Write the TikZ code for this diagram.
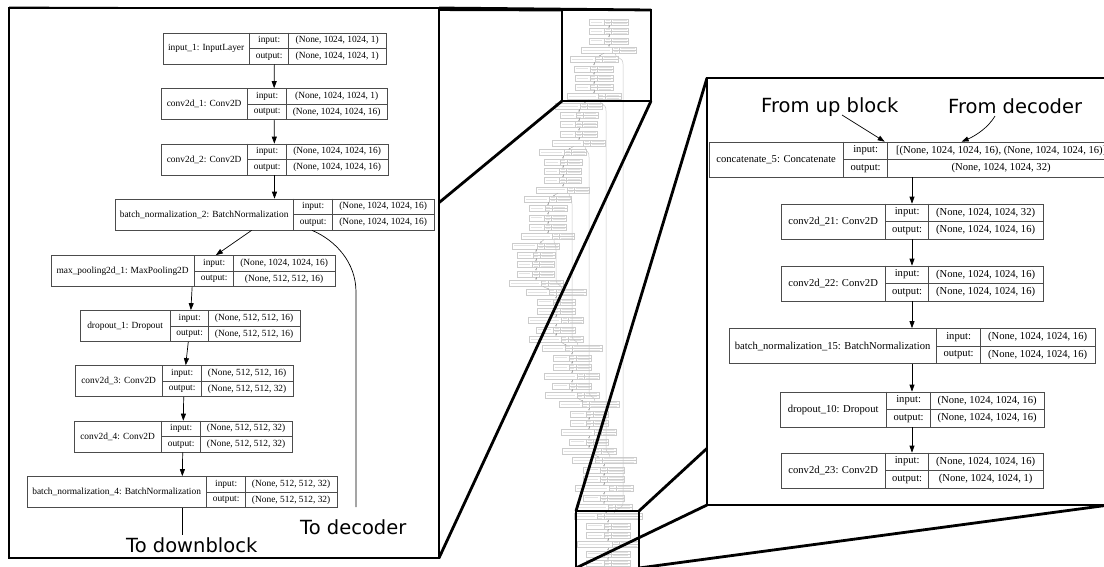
\documentclass[tikz,border=0pt]{standalone}
\usepackage{fontspec}
\setmainfont{Liberation Serif}
\newfontfamily\annfont{DejaVu Sans}
\usetikzlibrary{calc, arrows.meta, positioning}

\pgfdeclarelayer{thumb}
\pgfdeclarelayer{links}
\pgfsetlayers{thumb,links,main}

\tikzset{
	kbox/.style={draw=black!70, line width=.7pt, fill=white, inner sep=0pt},
	kcell/.style={draw=black!70, line width=.7pt},
	lp/.style={font=\fontsize{9.4}{11}\selectfont, minimum height=31, inner sep=0pt},
	rp/.style={font=\fontsize{10.6}{12}\selectfont, minimum height=35, inner sep=0pt},
	flow/.style={-{Triangle[length=7pt,width=5pt]}, line width=.7pt},
	wire/.style={line width=.7pt},
	ann/.style={font=\annfont\fontsize{19.5}{22}\selectfont, inner sep=0pt},
	panel/.style={draw, line width=2.8pt, fill=white, outer sep=0pt, inner sep=0pt},
	zoombox/.style={draw, line width=2.8pt, outer sep=0pt, inner sep=0pt},
	callout/.style={line width=2.8pt},
	tbox/.style={draw=gray!40, line width=.3pt, fill=white, minimum height=6, inner sep=0pt},
	tcell/.style={draw=gray!40, line width=.3pt},
	ttext/.style={draw=gray!22, line width=.9pt},
	tarrow/.style={-{Triangle[length=1.6pt,width=1.3pt]}, draw=gray!70, line width=.3pt},
	tskip/.style={draw=gray!45, line width=.5pt},
}

% #1 size, #2 name, #3 centre, #4 #5 #6 column widths, #7 layer, #8 input, #9 output
\newcommand{\kerasnode}[9]{%
	\node[kbox, #1, minimum width=#4+#5+#6] (#2) at #3 {};
	\draw[kcell] ($(#2.north west)+(#4,0)$) -- ($(#2.south west)+(#4,0)$);
	\draw[kcell] ($(#2.north west)+(#4+#5,0)$) -- ($(#2.south west)+(#4+#5,0)$);
	\draw[kcell] ($(#2.west)+(#4,0)$) -- (#2.east);
	\node[#1] at ($(#2.west)+(#4/2,0)$) {#7};
	\node[#1] at ($(#2.north west)!.5!(#2.west)+(#4+#5/2,0)$) {input:};
	\node[#1] at ($(#2.south west)!.5!(#2.west)+(#4+#5/2,0)$) {output:};
	\node[#1] at ($(#2.north west)!.5!(#2.west)+(#4+#5+#6/2,0)$) {#8};
	\node[#1] at ($(#2.south west)!.5!(#2.west)+(#4+#5+#6/2,0)$) {#9};
}

\begin{document}
\begin{tikzpicture}[x=1pt, y=-1pt]
	\useasboundingbox (0,0) rectangle (1104,566);
	\clip (0,0) rectangle (1104,566);

	% whole model, shrunk
	\begin{pgfonlayer}{thumb}
		\foreach \n/\c/\s [count=\i from 0] in {
			15/609/17, 15/609/17, 15/609/17, 31/609/17,
			25/594/16, 16/594/16, 15/594/16, 15/594/16, 31/594/16,
			25/579/15, 16/579/15, 15/579/15, 15/579/15, 31/579/15,
			25/563/15, 16/563/15, 15/563/15, 15/563/15, 31/563/15,
			25/548/15, 16/548/15, 15/548/15, 15/548/15, 31/548/15,
			25/536/15, 16/536/15, 15/536/15, 15/536/15, 32/536/15,
			23/556/30, 16/556/15, 16/556/15, 33/556/15, 17/556/15, 32/556/15,
			23/572/30, 16/572/15, 16/572/15, 33/572/15, 17/572/15, 32/572/15,
			23/589/30, 16/589/15, 16/589/15, 33/589/15, 17/589/15, 32/589/15,
			23/604/34, 17/604/17, 17/604/17, 34/604/17, 17/604/17, 32/604/17,
			23/608/38, 18/608/19, 18/608/19, 35/608/19, 18/608/19, 18/608/19}{
			\pgfmathsetmacro\ty{22+9.33*\i}
			\pgfmathsetmacro\tw{\n+7+\s}
			\node[tbox, minimum width=\tw] (t\i) at (\c,\ty) {};
			\draw[tcell] ($(t\i.north west)+(\n,0)$) -- ($(t\i.south west)+(\n,0)$);
			\draw[tcell] ($(t\i.north west)+(\n+7,0)$) -- ($(t\i.south west)+(\n+7,0)$);
			\draw[tcell] ($(t\i.west)+(\n,0)$) -- (t\i.east);
			\draw[ttext] ($(t\i.west)+(2,0)$) -- ($(t\i.west)+(\n-2,0)$);
			\draw[ttext] ($(t\i.north west)+(\n+1.5,1.5)$) -- ($(t\i.north west)+(\n+5.5,1.5)$);
			\draw[ttext] ($(t\i.south west)+(\n+1.5,-1.5)$) -- ($(t\i.south west)+(\n+5.5,-1.5)$);
			\draw[ttext] ($(t\i.north west)+(\n+9,1.5)$) -- ($(t\i.north east)+(-2,1.5)$);
			\draw[ttext] ($(t\i.south west)+(\n+9,-1.5)$) -- ($(t\i.south east)+(-2,-1.5)$);
		}
		\foreach \i [evaluate=\i as \j using int(\i+1)] in {0,...,57}
			\draw[tarrow] (t\i) -- (t\j);
		\foreach \b/\t/\X in {3/53/623, 8/47/606, 13/41/589, 18/35/572, 23/29/556}{
			\pgfmathsetmacro\ya{22+9.33*\b+14}
			\pgfmathsetmacro\yb{22+9.33*\t-14}
			\draw[tskip] ($(t\b.south)+(6,0)$) .. controls +(0,6) and +(0,-8) .. (\X,\ya)
				-- (\X,\yb) .. controls +(0,8) and +(0,-6) .. ($(t\t.north)+(6,0)$);
		}
	\end{pgfonlayer}

	\node[zoombox, minimum width=89, minimum height=91] (zoomtop) at (606.5,55.5) {};
	\node[zoombox, minimum width=63, minimum height=57] (zoombot) at (607.5,539.5) {};
	\node[panel, minimum width=430, minimum height=550] (leftpanel) at (224,283) {};
	\node[panel, minimum width=402, minimum height=427] (rightpanel) at (908,291.5) {};

	\begin{pgfonlayer}{links}
		\foreach \c in {north west, north east, south west, south east}{
			\draw[callout] (zoomtop.\c) -- (leftpanel.\c);
			\draw[callout] (zoombot.\c) -- (rightpanel.\c);
		}
	\end{pgfonlayer}

	% encoder side
	\kerasnode{lp}{in1}{(274.5,48.5)}{87}{39}{97}{input\_1: InputLayer}{(None, 1024, 1024, 1)}{(None, 1024, 1024, 1)}
	\kerasnode{lp}{cv1}{(274,104)}{87}{39}{100}{conv2d\_1: Conv2D}{(None, 1024, 1024, 1)}{(None, 1024, 1024, 16)}
	\kerasnode{lp}{cv2}{(274.5,159.5)}{87}{39}{101}{conv2d\_2: Conv2D}{(None, 1024, 1024, 16)}{(None, 1024, 1024, 16)}
	\kerasnode{lp}{bn2}{(274.5,214.5)}{179}{39}{101}{batch\_normalization\_2: BatchNormalization}{(None, 1024, 1024, 16)}{(None, 1024, 1024, 16)}
	\kerasnode{lp}{mp1}{(193,271)}{144}{39}{101}{max\_pooling2d\_1: MaxPooling2D}{(None, 1024, 1024, 16)}{(None, 512, 512, 16)}
	\kerasnode{lp}{do1}{(190,326)}{91}{38}{91}{dropout\_1: Dropout}{(None, 512, 512, 16)}{(None, 512, 512, 16)}
	\kerasnode{lp}{cv3}{(184,381)}{88}{39}{91}{conv2d\_3: Conv2D}{(None, 512, 512, 16)}{(None, 512, 512, 32)}
	\kerasnode{lp}{cv4}{(183,436.5)}{88}{39}{91}{conv2d\_4: Conv2D}{(None, 512, 512, 32)}{(None, 512, 512, 32)}
	\kerasnode{lp}{bn4}{(182,492)}{180}{39}{91}{batch\_normalization\_4: BatchNormalization}{(None, 512, 512, 32)}{(None, 512, 512, 32)}

	\draw[flow] (in1) -- (cv1);
	\draw[flow] (cv1) -- (cv2);
	\draw[flow] (cv2) -- (bn2);
	\draw[flow] (bn2) -- (mp1);
	\draw[flow] (mp1) -- (do1);
	\draw[flow] (do1) -- (cv3);
	\draw[flow] (cv3) -- (cv4);
	\draw[flow] (cv4) -- (bn4);

	\coordinate (todec) at (356,507);
	\coordinate (todown) at (182,535);
	\draw[wire] ($(bn2.south)+(37.5,0)$) .. controls (335,240) and (356,262) .. (356,292) -- (todec);
	\draw[wire] (bn4) -- (todown);
	\node[ann, anchor=base west] (lbldown) at (126,552) {To downblock};
	\node[ann, anchor=base west] (lbldec) at (300,534) {To decoder};

	% decoder side
	\kerasnode{rp}{cat5}{(912,159.5)}{135}{44}{227}{concatenate\_5: Concatenate}{[(None, 1024, 1024, 16), (None, 1024, 1024, 16)]}{(None, 1024, 1024, 32)}
	\kerasnode{rp}{cv21}{(912,221.5)}{105}{43}{114}{conv2d\_21: Conv2D}{(None, 1024, 1024, 32)}{(None, 1024, 1024, 16)}
	\kerasnode{rp}{cv22}{(912,283.5)}{105}{43}{114}{conv2d\_22: Conv2D}{(None, 1024, 1024, 16)}{(None, 1024, 1024, 16)}
	\kerasnode{rp}{bn15}{(912,346)}{208}{44}{114}{batch\_normalization\_15: BatchNormalization}{(None, 1024, 1024, 16)}{(None, 1024, 1024, 16)}
	\kerasnode{rp}{do10}{(912,409.5)}{107}{44}{113}{dropout\_10: Dropout}{(None, 1024, 1024, 16)}{(None, 1024, 1024, 16)}
	\kerasnode{rp}{cv23}{(912,470.5)}{105}{43}{114}{conv2d\_23: Conv2D}{(None, 1024, 1024, 16)}{(None, 1024, 1024, 1)}

	\draw[flow] (cat5) -- (cv21);
	\draw[flow] (cv21) -- (cv22);
	\draw[flow] (cv22) -- (bn15);
	\draw[flow] (bn15) -- (do10);
	\draw[flow] (do10) -- (cv23);

	\node[ann, anchor=base west] (fromup) at (761,112) {From up block};
	\node[ann, anchor=base west] (fromdec) at (948,113) {From decoder};
	\draw[flow] ($(fromup.base west)+(81,3)$) -- ($(cat5.north west)+(176,0)$);
	\draw[flow] ($(fromdec.base west)+(47,3)$) .. controls (988,128) and (975,136) .. ($(cat5.north west)+(253,0)$);
\end{tikzpicture}
\end{document}
